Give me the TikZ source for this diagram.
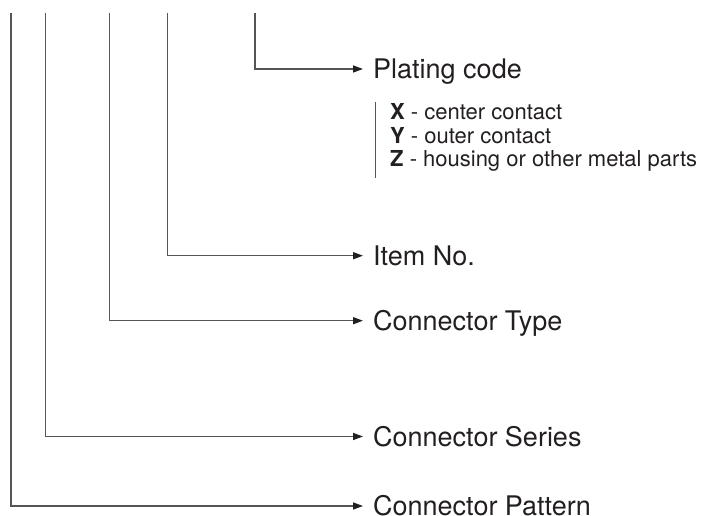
\documentclass[tikz,border=0pt]{standalone}
\usepackage{fontspec}
\setmainfont{TeX Gyre Heros}
\usetikzlibrary{arrows.meta}
\definecolor{ink}{HTML}{231F20}
\definecolor{wire}{HTML}{555555}
\tikzset{
  wireline/.style={draw=wire, line width=1.5pt, -{Triangle[length=10pt,width=7pt,fill=ink,color=ink]}, shorten >=10pt},
  mainlabel/.style={anchor=west, inner sep=0pt, text=ink, font=\fontsize{27}{31}\selectfont, text height=19.4pt, text depth=0pt},
  sublabel/.style={anchor=base west, inner sep=0pt, text=ink, font=\fontsize{22}{25}\selectfont},
}
\begin{document}
\begin{tikzpicture}[x=1pt,y=-1pt]
\useasboundingbox (0,0) rectangle (716,516);
% tops of the lines
\coordinate (t1) at (11,13);
\coordinate (t2) at (45.7,13);
\coordinate (t3) at (109.5,13);
\coordinate (t4) at (167.5,13);
\coordinate (t5) at (255,13);
% labels
\node[mainlabel] (plating) at (373,69) {Plating code};
\node[mainlabel] (item) at (373,255.7) {Item No.};
\node[mainlabel] (type) at (373,320.7) {Connector Type};
\node[mainlabel] (series) at (373,436.5) {Connector Series};
\node[mainlabel] (pattern) at (373,506) {Connector Pattern};
% connectors
\draw[wireline] (t5) |- (plating.west);
\draw[wireline] (t4) |- (item.west);
\draw[wireline] (t3) |- (type.west);
\draw[wireline] (t2) |- (series.west);
\draw[wireline] (t1) |- (pattern.west);
% sub list
\coordinate (bartop) at (375,102);
\coordinate (barbot) at (375,178);
\draw[draw=wire, line width=1pt] (bartop) -- (barbot);
\node[sublabel] (x) at (390,120) {\textbf{X} - center contact};
\node[sublabel] (y) at (390,143.5) {\textbf{Y} - outer contact};
\node[sublabel] (z) at (390,167) {\textbf{Z} - housing or other metal parts};
\end{tikzpicture}
\end{document}
